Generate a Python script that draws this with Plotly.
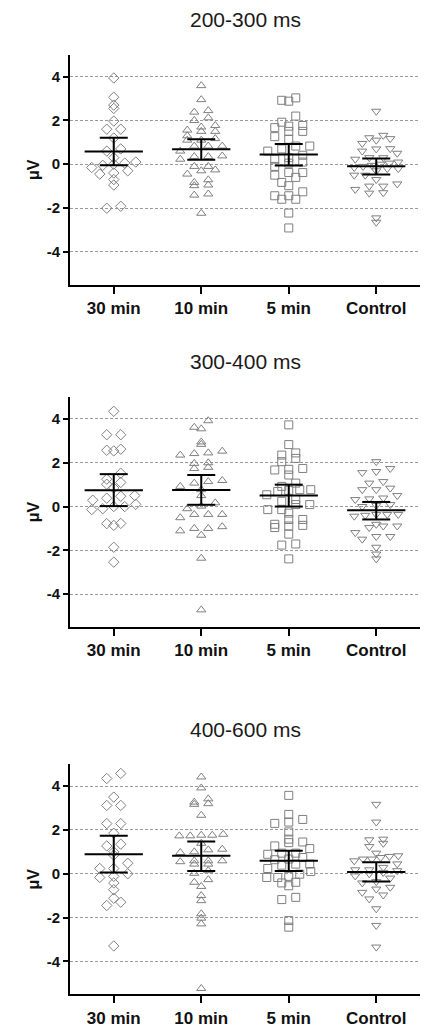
import numpy as np
import plotly.graph_objects as go

categories = ["30 min", "10 min", "5 min", "Control"]
panel_titles = ["200-300 ms", "300-400 ms", "400-600 ms"]
symbols = ["diamond-open", "triangle-up-open", "square-open", "triangle-down-open"]
marker_sizes = [8, 8, 8, 8]

# ---- Panel 1: 200-300 ms ----
p1_30min = [3.94, 3.06, 2.70, 2.55, 1.97, 1.60, 1.60, 1.20, 0.70, 0.60, 0.30, 0.10,
            0.05, 0.00, -0.05, -0.15, -0.30, -0.40, -0.45, -0.70, -0.95, -1.92, -2.01]
p1_10min = [3.59, 2.95, 2.45, 2.38, 2.12, 2.00, 1.77, 1.70, 1.56, 1.50, 1.50, 1.30,
            1.17, 1.10, 1.10, 0.83, 0.83, 0.83, 0.60, 0.38, 0.35, 0.35, 0.23, -0.10,
            -0.10, -0.26, -0.30, -0.45, -0.71, -0.83, -0.95, -0.98, -1.36, -1.41, -2.24]
p1_5min = [3.03, 2.88, 2.92, 2.20, 1.92, 1.77, 1.74, 1.67, 1.50, 1.50, 1.26, 1.14,
           0.83, 0.83, 0.70, 0.60, 0.41, 0.30, 0.23, 0.10, 0.05, -0.10, -0.38, -0.38,
           -0.50, -0.60, -0.83, -0.98, -1.26, -1.44, -1.44, -1.60, -1.60, -2.23, -2.91]
p1_control = [2.42, 1.32, 1.21, 1.17, 1.10, 0.95, 0.71, 0.70, 0.60, 0.50, 0.30, 0.30,
              0.23, 0.10, 0.05, 0.00, -0.05, -0.10, -0.15, -0.20, -0.20, -0.30, -0.50,
              -0.50, -0.70, -0.90, -1.00, -1.00, -1.15, -1.30, -1.32, -2.45, -2.65]
p1_mean = [0.58, 0.68, 0.44, -0.09]
p1_ci_low = [-0.05, 0.20, -0.06, -0.47]
p1_ci_high = [1.21, 1.14, 0.92, 0.26]

# ---- Panel 2: 300-400 ms ----
p2_30min = [4.35, 3.28, 3.28, 2.62, 2.57, 2.54, 1.52, 1.25, 1.10, 1.02, 0.85, 0.50,
            0.47, 0.38, 0.29, 0.10, 0.00, 0.00, -0.10, -0.14, -0.77, -0.78, -0.86,
            -1.86, -2.54]
p2_10min = [3.92, 3.62, 3.55, 2.95, 2.84, 2.53, 2.45, 2.42, 2.35, 2.00, 1.97, 1.79,
            1.74, 1.19, 1.14, 1.07, 0.92, 0.77, 0.50, 0.17, 0.02, -0.10, -0.36, -0.36,
            -0.36, -0.51, -0.92, -1.00, -1.00, -1.11, -1.31, -2.36, -4.72]
p2_5min = [3.73, 2.83, 2.45, 2.35, 2.20, 2.05, 1.74, 1.70, 1.67, 1.44, 1.07, 0.92,
           0.77, 0.77, 0.74, 0.69, 0.54, 0.32, 0.24, 0.09, 0.09, -0.14, -0.14, -0.30,
           -0.59, -0.59, -0.81, -0.86, -0.89, -0.96, -1.26, -1.71, -1.76, -2.39]
p2_control = [2.05, 1.74, 1.60, 1.55, 1.14, 1.07, 0.84, 0.77, 0.77, 0.50, 0.39, 0.35,
              0.32, 0.09, 0.05, 0.00, -0.36, -0.36, -0.36, -0.40, -0.44, -0.81, -0.89,
              -0.89, -0.96, -1.19, -1.37, -1.37, -1.49, -1.86, -2.17, -2.39]
p2_mean = [0.74, 0.76, 0.50, -0.17]
p2_ci_low = [0.02, 0.08, 0.00, -0.59]
p2_ci_high = [1.48, 1.44, 1.00, 0.21]

# ---- Panel 3: 400-600 ms ----
p3_30min = [4.58, 4.35, 3.50, 3.12, 3.12, 2.29, 2.29, 1.85, 1.35, 1.27, 1.00, 0.85,
            0.48, 0.24, 0.24, 0.00, -0.12, -0.17, -0.42, -0.73, -1.12, -1.30, -1.45,
            -3.30]
p3_10min = [4.42, 3.92, 3.42, 3.27, 3.20, 3.17, 2.67, 1.80, 1.76, 1.76, 1.73, 1.73,
            1.39, 1.12, 1.09, 1.00, 0.97, 0.59, 0.59, 0.59, 0.55, 0.44, 0.44, 0.14,
            0.02, -0.27, -0.39, -0.58, -1.00, -1.23, -1.83, -2.03, -2.29, -5.24]
p3_5min = [3.58, 2.71, 2.48, 2.36, 2.30, 1.91, 1.58, 1.45, 1.42, 1.27, 1.15, 0.94,
           0.94, 0.89, 0.74, 0.67, 0.64, 0.44, 0.44, 0.39, 0.24, 0.10, -0.02, -0.12,
           -0.17, -0.17, -0.39, -0.42, -0.55, -1.08, -1.18, -2.14, -2.44]
p3_control = [3.17, 2.36, 1.58, 1.55, 1.39, 1.24, 0.94, 0.82, 0.79, 0.74, 0.67, 0.67,
              0.59, 0.45, 0.29, 0.18, 0.18, 0.14, 0.06, 0.00, -0.10, -0.20, -0.36,
              -0.42, -0.62, -0.70, -0.85, -0.97, -1.15, -1.60, -2.36, -3.35]
p3_mean = [0.89, 0.82, 0.59, 0.08]
p3_ci_low = [0.06, 0.12, 0.12, -0.36]
p3_ci_high = [1.73, 1.47, 1.05, 0.52]

panels = [
    ([p1_30min, p1_10min, p1_5min, p1_control], p1_mean, p1_ci_low, p1_ci_high),
    ([p2_30min, p2_10min, p2_5min, p2_control], p2_mean, p2_ci_low, p2_ci_high),
    ([p3_30min, p3_10min, p3_5min, p3_control], p3_mean, p3_ci_low, p3_ci_high),
]

# page body has an 8px margin: figure is placed at (8, 8)
OFF = 8
W, H = 431 - OFF, 1028 - OFF
X_LEFT, X_RIGHT = 70 - OFF, 420 - OFF
panel_px = [(55 - OFF, 286 - OFF), (399 - OFF, 630 - OFF), (768 - OFF, 999 - OFF)]
title_px = [20 - OFF, 363 - OFF, 733 - OFF]
Y_RANGE = [-5.5, 5.0]
X_RANGE = [-0.5, 3.5]
px_per_x = (X_RIGHT - X_LEFT) / (X_RANGE[1] - X_RANGE[0])
px_per_y = (panel_px[0][1] - panel_px[0][0]) / (Y_RANGE[1] - Y_RANGE[0])


def swarm(vals, center, row_px=7.5, step_px=14.0, half_width_px=22.0):
    """Prism-like scatter: points binned into rows, spread symmetrically."""
    v = np.asarray(vals, dtype=float)
    bin_h = row_px / px_per_y
    bins = np.round(v / bin_h).astype(int)
    xs = np.zeros(len(v))
    for b in np.unique(bins):
        idx = np.where(bins == b)[0]
        idx = idx[np.argsort(v[idx])]
        n = len(idx)
        st = step_px if n < 2 else min(step_px, 2 * half_width_px / (n - 1))
        st /= px_per_x
        for k, j in enumerate(idx):
            xs[j] = center + (k - (n - 1) / 2) * st
    return xs


FONT = "Liberation Sans, Arial, sans-serif"
GRAY = "#7f7f7f"
fig = go.Figure()

for p, (groups, means, lo, hi) in enumerate(panels):
    xa = "x" if p == 0 else f"x{p + 1}"
    ya = "y" if p == 0 else f"y{p + 1}"
    for i, vals in enumerate(groups):
        fig.add_trace(go.Scatter(
            x=swarm(vals, i), y=vals, mode="markers",
            marker=dict(symbol=symbols[i], size=marker_sizes[i], color=GRAY,
                        line=dict(color=GRAY, width=1)),
            xaxis=xa, yaxis=ya, showlegend=False, hoverinfo="y"))
    ex, ey = [], []
    for i in range(len(categories)):
        ex += [i - 0.333, i + 0.333, None, i, i, None,
               i - 0.16, i + 0.16, None, i - 0.16, i + 0.16, None]
        ey += [means[i], means[i], None, lo[i], hi[i], None,
               lo[i], lo[i], None, hi[i], hi[i], None]
    fig.add_trace(go.Scatter(x=ex, y=ey, mode="lines",
                             line=dict(color="black", width=2),
                             xaxis=xa, yaxis=ya, showlegend=False, hoverinfo="skip"))

layout = dict(
    width=W, height=H, margin=dict(l=0, r=0, t=0, b=0),
    paper_bgcolor="white", plot_bgcolor="white",
    font=dict(family=FONT, color="#111111"),
    annotations=[],
)
for p in range(3):
    top, bot = panel_px[p]
    xk = "xaxis" if p == 0 else f"xaxis{p + 1}"
    yk = "yaxis" if p == 0 else f"yaxis{p + 1}"
    ya = "y" if p == 0 else f"y{p + 1}"
    xa = "x" if p == 0 else f"x{p + 1}"
    layout[xk] = dict(
        domain=[X_LEFT / W, X_RIGHT / W], range=X_RANGE, anchor=ya,
        tickmode="array", tickvals=list(range(len(categories))), ticktext=categories,
        ticks="outside", ticklen=7, tickwidth=2, tickcolor="black",
        showline=True, linewidth=2, linecolor="black", showgrid=False, zeroline=False,
        tickfont=dict(size=17, family=FONT, color="#111111", weight="bold"),
    )
    layout[yk] = dict(
        domain=[1 - bot / H, 1 - top / H], range=Y_RANGE, anchor=xa,
        tickmode="array", tickvals=[-4, -2, 0, 2, 4], ticktext=["-4", "-2", "0", "2", "4"],
        ticks="outside", ticklen=5, tickwidth=2, tickcolor="black",
        showline=True, linewidth=2, linecolor="black",
        showgrid=True, gridcolor="#9a9a9a", gridwidth=1, griddash="3px,2px",
        zeroline=False,
        tickfont=dict(size=15, family=FONT, color="#111111", weight="bold"),
        title=dict(text="μV", standoff=3,
                   font=dict(size=16, family=FONT, color="#111111", weight="bold")),
    )
    layout["annotations"].append(dict(
        text=panel_titles[p], xref="paper", yref="paper",
        x=(X_LEFT + X_RIGHT) / 2 / W, y=1 - title_px[p] / H,
        xanchor="center", yanchor="middle", showarrow=False,
        font=dict(size=21, family=FONT, color="#1a1a1a")))

fig.update_layout(**layout)
fig.write_html("out.html")
